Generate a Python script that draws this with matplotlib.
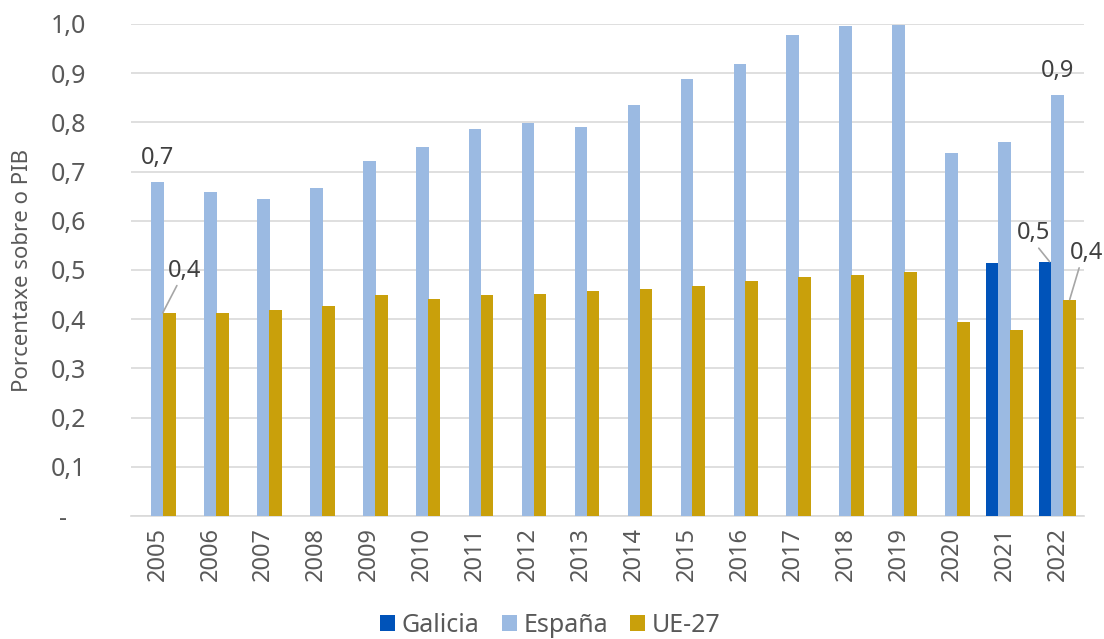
import numpy as np
import matplotlib.pyplot as plt
from matplotlib.ticker import FuncFormatter

plt.rcParams['font.family'] = ['Noto Sans', 'DejaVu Sans']

years = [str(y) for y in range(2005, 2023)]
galicia = [np.nan] * 16 + [0.514, 0.517]
espana = [0.679, 0.659, 0.644, 0.667, 0.721, 0.750, 0.787, 0.799, 0.791,
          0.835, 0.888, 0.918, 0.977, 0.995, 0.997, 0.737, 0.760, 0.856]
ue27 = [0.413, 0.413, 0.419, 0.427, 0.450, 0.441, 0.449, 0.451, 0.457,
        0.461, 0.467, 0.477, 0.485, 0.489, 0.495, 0.395, 0.379, 0.440]

c_gal = "#0053B9"
c_esp = "#9BBAE2"
c_ue = "#C9A00B"
txt = "#595959"
lbl = "#404040"


def fmt(v):
    return f"{v:.1f}".replace(".", ",")


fig = plt.figure(figsize=(11.04, 6.39), dpi=100)
ax = fig.add_axes([131 / 1104, (639 - 516) / 639, (1084 - 131) / 1104, (516 - 24) / 639])

x = np.arange(len(years))
w = 0.24
step = 0.225
ax.bar(x - step, galicia, w, color=c_gal, label="Galicia", zorder=3)
ax.bar(x, espana, w, color=c_esp, label="España", zorder=3)
ax.bar(x + step, ue27, w, color=c_ue, label="UE-27", zorder=3)

ax.set_xlim(-0.5, len(years) - 0.5)
ax.set_ylim(0, 1.0)
ax.set_yticks(np.arange(0, 1.01, 0.1))
ax.yaxis.set_major_formatter(FuncFormatter(
    lambda v, p: "-   " if abs(v) < 1e-9 else fmt(v)))
ax.set_xticks(x)
ax.set_xticklabels(years, rotation=90)
ax.tick_params(axis='y', length=0, labelsize=18, labelcolor=txt, pad=32)
ax.tick_params(axis='x', length=0, labelsize=17, labelcolor=txt, pad=8)

ax.grid(axis='y', color="#D9D9D9", linewidth=1.2, zorder=0)
for s in ['top', 'right', 'left']:
    ax.spines[s].set_visible(False)
ax.spines['bottom'].set_color("#D9D9D9")
ax.spines['bottom'].set_linewidth(1.2)

ax.set_ylabel("Porcentaxe sobre o PIB", fontsize=16, color=txt)
ax.yaxis.set_label_coords(-0.103, 0.5)

# data labels
lab_kw = dict(fontsize=17, color=lbl, ha='center', va='bottom')
ax.text(x[0], espana[0] + 0.024, fmt(espana[0]), **lab_kw)
ax.text(x[-1], espana[-1] + 0.024, fmt(espana[-1]), **lab_kw)
line_kw = dict(arrowstyle='-', color="#A6A6A6", lw=1.2, shrinkA=0, shrinkB=0)
ax.annotate(fmt(ue27[0]), xy=(x[0] + 0.1, ue27[0]),
            xytext=(x[0] + 0.52, 0.474), arrowprops=dict(line_kw, relpos=(0.3, 0.0)),
            **lab_kw)
ax.annotate(fmt(galicia[-1]), xy=(x[-1] - 0.15, galicia[-1]),
            xytext=(x[-1] - 0.46, 0.55), arrowprops=dict(line_kw, relpos=(0.6, 0.0)),
            **lab_kw)
ax.annotate(fmt(ue27[-1]), xy=(x[-1] + 0.23, ue27[-1]),
            xytext=(x[-1] + 0.55, 0.51), annotation_clip=False,
            arrowprops=dict(line_kw, relpos=(0.3, 0.0)), **lab_kw)

ax.legend(loc='center', bbox_to_anchor=(0.44, -0.222), ncol=3, frameon=False,
          fontsize=18, labelcolor=txt, handlelength=0.6, handleheight=0.6,
          handletextpad=0.25, columnspacing=0.9)

fig.savefig("out.png", dpi=100)
